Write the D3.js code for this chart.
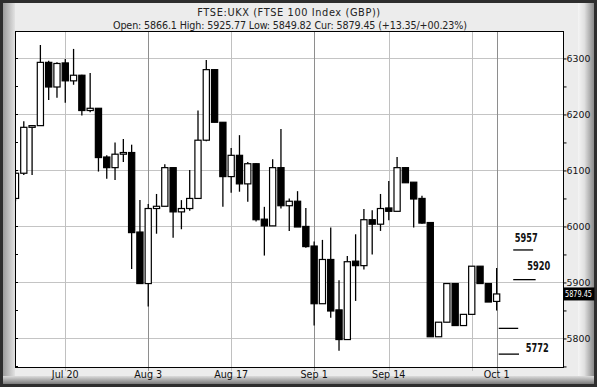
<!DOCTYPE html>
<html lang="en">
<head>
    <meta charset="UTF-8">
    <title>FTSE 100 candlestick</title>
    <script src="https://d3js.org/d3.v7.min.js"></script>
    <style>
        html, body { margin: 0; padding: 0; background: #2e2e2e; }
        svg { display: block; }
        text { font-family: "DejaVu Sans", Verdana, sans-serif; }
    </style>
</head>
<body>
    <div id="chart"></div>
    <script>
        // trading days shown on the chart
        const dates = [
            "Jul 10", "Jul 13", "Jul 14", "Jul 15", "Jul 16", "Jul 17", "Jul 20", "Jul 21", "Jul 22", "Jul 23",
            "Jul 24", "Jul 27", "Jul 28", "Jul 29", "Jul 30", "Jul 31",
            "Aug 3", "Aug 4", "Aug 5", "Aug 6", "Aug 7", "Aug 10", "Aug 11", "Aug 12", "Aug 13", "Aug 14",
            "Aug 17", "Aug 18", "Aug 19", "Aug 20", "Aug 21", "Aug 24", "Aug 25", "Aug 26", "Aug 27", "Aug 28",
            "Sep 1", "Sep 2", "Sep 3", "Sep 4", "Sep 7", "Sep 8", "Sep 9", "Sep 10", "Sep 11",
            "Sep 14", "Sep 15", "Sep 16", "Sep 17", "Sep 18", "Sep 21", "Sep 22", "Sep 23", "Sep 24", "Sep 25",
            "Sep 28", "Sep 29", "Sep 30", "Oct 1"
        ];
        const open = [
            6050, 6095, 6177, 6180, 6293, 6249, 6292, 6260, 6270, 6207, 6211, 6124, 6105, 6129, 6132, 5990,
            5898, 6032, 6036, 6105, 6026, 6032, 6050, 6154, 6280, 6186, 6089, 6127, 6076, 6112, 6013,
            6001, 6105, 6037, 6045, 6000,
            5965, 5862, 5941, 5851, 5798, 5938, 5930, 6012, 6004, 6033, 6027, 6105, 6079, 6050,
            6007, 5803, 5829, 5898, 5823, 5843, 5929, 5898, 5866.1
        ];
        const high = [
            6100, 6188, 6181, 6324, 6296, 6293, 6299, 6317, 6271, 6274, 6211, 6127, 6150, 6156, 6146, 6047,
            6040, 6058, 6111, 6105, 6047, 6101, 6207, 6297, 6281, 6186, 6140, 6163, 6115, 6113, 6035,
            6120, 6174, 6050, 6063, 6033,
            5973, 5976, 5998, 5904, 5947, 5986, 6031, 6029, 6058, 6081, 6124, 6106, 6079, 6055,
            6007, 5829, 5898, 5898, 5843, 5929, 5929, 5898, 5925.77
        ];
        const low = [
            6045, 6092, 6092, 6180, 6226, 6230, 6221, 6253, 6198, 6204, 6098, 6085, 6083, 6115, 5924, 5897,
            5857, 5987, 6036, 5980, 5995, 6028, 6050, 6152, 6186, 6035, 6060, 6062, 6044, 6009, 5948,
            6001, 6032, 5992, 5999, 5962,
            5823, 5862, 5837, 5778, 5798, 5867, 5923, 5950, 5992, 6011, 6027, 6078, 5998, 6005,
            5803, 5803, 5829, 5823, 5823, 5843, 5898, 5865, 5849.82
        ];
        const close = [
            6095, 6177, 6180, 6293, 6249, 6291, 6260, 6270, 6207, 6211, 6123, 6105, 6129, 6132, 5989, 5898,
            6032, 6036, 6105, 6026, 6032, 6050, 6154, 6280, 6186, 6089, 6127, 6076, 6112, 6012, 6001,
            6105, 6037, 6045, 5999, 5964,
            5862, 5941, 5849, 5798, 5937, 5930, 6012, 6004, 6032, 6027, 6105, 6078, 6049, 6006,
            5803, 5829, 5898, 5823, 5843, 5929, 5898, 5865, 5879.45
        ];

        // axis labels
        const priceTicks = [5800, 5900, 6000, 6100, 6200, 6300];
        const dateTicks = ["Jul 20", "Aug 3", "Aug 17", "Sep 1", "Sep 14", "Sep 28", "Oct 1"];
        const dateTickLabels = ["Jul 20", "Aug 3", "Aug 17", "Sep 1", "Sep 14", "", "Oct 1"];
        const monthStarts = ["Aug 3", "Sep 1", "Oct 1"];

        // drawn price levels on the right
        const levels = [5958, 5905, 5818, 5772];
        const levelLabels = ["5957", "5920", "", "5772"];

        const title = "FTSE:UKX (FTSE 100 Index (GBP))";
        const subtitle = "Open: 5866.1 High: 5925.77 Low: 5849.82 Cur: 5879.45 (+13.35/+00.23%)";
        const current = 5879.45;

        const W = 597, H = 387;
        const plot = { left: 15, top: 31, right: 563, bottom: 367 };

        const svg = d3.select("#chart").append("svg")
            .attr("width", W)
            .attr("height", H);

        const defs = svg.append("defs");
        const grad = (id, x2, y2, stops) => {
            const g = defs.append("linearGradient").attr("id", id)
                .attr("x1", 0).attr("y1", 0).attr("x2", x2).attr("y2", y2);
            stops.forEach(([o, c]) => g.append("stop").attr("offset", o).attr("stop-color", c));
        };
        grad("bevR", 1, 0, [[0, "#f4f4f4"], [0.4, "#e0e0e0"], [1, "#8a8a8a"]]);
        grad("bevL", 1, 0, [[0, "#9c9c9c"], [1, "#e2e2e2"]]);
        grad("bevB", 0, 1, [[0, "#dcdcdc"], [1, "#7a7a7a"]]);
        defs.append("clipPath").attr("id", "plotClip")
            .append("rect")
            .attr("x", plot.left).attr("y", plot.top)
            .attr("width", plot.right - plot.left).attr("height", plot.bottom - plot.top);

        // frame
        svg.append("rect").attr("width", W).attr("height", H).attr("fill", "#2e2e2e");
        svg.append("rect").attr("x", 3).attr("y", 3).attr("width", 591).attr("height", 380).attr("fill", "#ececec");
        svg.append("rect").attr("x", 3).attr("y", 3).attr("width", 12).attr("height", 380).attr("fill", "url(#bevL)");
        svg.append("rect").attr("x", 578).attr("y", 3).attr("width", 16).attr("height", 380).attr("fill", "url(#bevR)");
        svg.append("rect").attr("x", 3).attr("y", 376).attr("width", 591).attr("height", 8).attr("fill", "url(#bevB)");

        // titles
        svg.append("text").attr("x", 289).attr("y", 15.5)
            .attr("text-anchor", "middle").attr("font-size", "9.8px").attr("fill", "#222")
            .attr("letter-spacing", "0.6px")
            .text(title);
        svg.append("text").attr("x", 290).attr("y", 28.5)
            .attr("text-anchor", "middle").attr("font-size", "9.6px").attr("fill", "#222")
            .attr("textLength", 354).attr("lengthAdjust", "spacing")
            .text(subtitle);

        const x = d3.scaleLinear().domain([-0.06, 66]).range([plot.left, plot.right]);
        const y = d3.scaleLinear().domain([5749, 6349]).range([plot.bottom, plot.top]);
        const xd = d => x(dates.indexOf(d));

        svg.append("rect")
            .attr("x", plot.left).attr("y", plot.top)
            .attr("width", plot.right - plot.left).attr("height", plot.bottom - plot.top)
            .attr("fill", "#fff");

        // grid
        svg.append("g").selectAll("line").data(priceTicks).join("line")
            .attr("x1", plot.left).attr("x2", plot.right)
            .attr("y1", d => Math.round(y(d)) + 0.5).attr("y2", d => Math.round(y(d)) + 0.5)
            .attr("stroke", "#c4c4c4");
        svg.append("g").selectAll("line").data(dateTicks).join("line")
            .attr("x1", d => Math.round(xd(d)) + 0.5).attr("x2", d => Math.round(xd(d)) + 0.5)
            .attr("y1", plot.top).attr("y2", plot.bottom + 4)
            .attr("stroke", d => monthStarts.includes(d) ? "#8e8e8e" : "#c0c0c0");

        // right axis
        const yAxis = d3.axisRight(y)
            .tickValues(d3.range(5750, 6350, 50))
            .tickSize(3)
            .tickFormat(d => priceTicks.includes(d) ? d : "");
        const ay = svg.append("g")
            .attr("transform", `translate(${plot.right + 0.5},0)`)
            .call(yAxis);
        ay.select(".domain").remove();
        ay.selectAll("line").attr("stroke", "#000");
        ay.selectAll("text").attr("x", 3).attr("font-size", "9.4px").attr("fill", "#111")
            .attr("font-family", "DejaVu Sans, sans-serif");

        // small inside ticks on left edge
        svg.append("g").selectAll("line").data(d3.range(5750, 6350, 50)).join("line")
            .attr("x1", plot.left).attr("x2", plot.left + 3)
            .attr("y1", d => Math.round(y(d)) + 0.5).attr("y2", d => Math.round(y(d)) + 0.5)
            .attr("stroke", "#000");

        // bottom axis labels
        svg.append("g").selectAll("text").data(dateTicks).join("text")
            .attr("x", d => xd(d)).attr("y", 378)
            .attr("text-anchor", "middle").attr("font-size", "9.6px").attr("fill", "#111")
            .text((d, i) => dateTickLabels[i]);

        // candles
        const candles = svg.append("g").attr("clip-path", "url(#plotClip)")
            .selectAll("g").data(dates.map((d, i) => i)).join("g");
        candles.append("line")
            .attr("x1", i => x(i)).attr("x2", i => x(i))
            .attr("y1", i => y(high[i])).attr("y2", i => y(low[i]))
            .attr("stroke", "#000").attr("stroke-width", 1.3);
        candles.append("rect")
            .attr("x", i => x(i) - 3.1)
            .attr("width", 6.2)
            .attr("y", i => y(Math.max(open[i], close[i])))
            .attr("height", i => Math.max(1.5, Math.abs(y(open[i]) - y(close[i]))))
            .attr("fill", i => close[i] >= open[i] ? "#fff" : "#000")
            .attr("stroke", "#000").attr("stroke-width", 1.2);

        // plot border
        svg.append("rect")
            .attr("x", plot.left + 0.5).attr("y", plot.top + 0.5)
            .attr("width", plot.right - plot.left).attr("height", plot.bottom - plot.top)
            .attr("fill", "none").attr("stroke", "#000");

        // price levels
        const levelX = [[60.0, 62.4], [60.0, 62.7], [58.25, 60.6], [58.25, 60.7]];
        const lv = svg.append("g");
        lv.selectAll("line").data(levels).join("line")
            .attr("x1", (d, i) => x(levelX[i][0])).attr("x2", (d, i) => x(levelX[i][1]))
            .attr("y1", d => y(d)).attr("y2", d => y(d))
            .attr("stroke", "#000").attr("stroke-width", 1.3);
        const labelPos = [[1.5, -8], [14, -9.5], [0, 0], [27, -2]];
        lv.selectAll("text").data(levels).join("text")
            .attr("x", (d, i) => x(levelX[i][0]) + labelPos[i][0])
            .attr("y", (d, i) => y(d) + labelPos[i][1])
            .attr("font-family", "'Liberation Sans', Arial, sans-serif")
            .attr("font-weight", "bold").attr("font-size", "12.5px").attr("fill", "#111")
            .attr("textLength", 23).attr("lengthAdjust", "spacingAndGlyphs")
            .text((d, i) => levelLabels[i]);

        // current price tag
        const tag = svg.append("g");
        tag.append("rect")
            .attr("x", plot.right + 1).attr("y", y(current) - 6.5)
            .attr("width", 30.5).attr("height", 13)
            .attr("fill", "#000");
        tag.append("text")
            .attr("x", plot.right + 2).attr("y", y(current) + 3.3)
            .attr("font-size", "9px").attr("fill", "#fff")
            .attr("textLength", 27).attr("lengthAdjust", "spacingAndGlyphs")
            .text(current.toFixed(2));
    </script>
</body>
</html>
